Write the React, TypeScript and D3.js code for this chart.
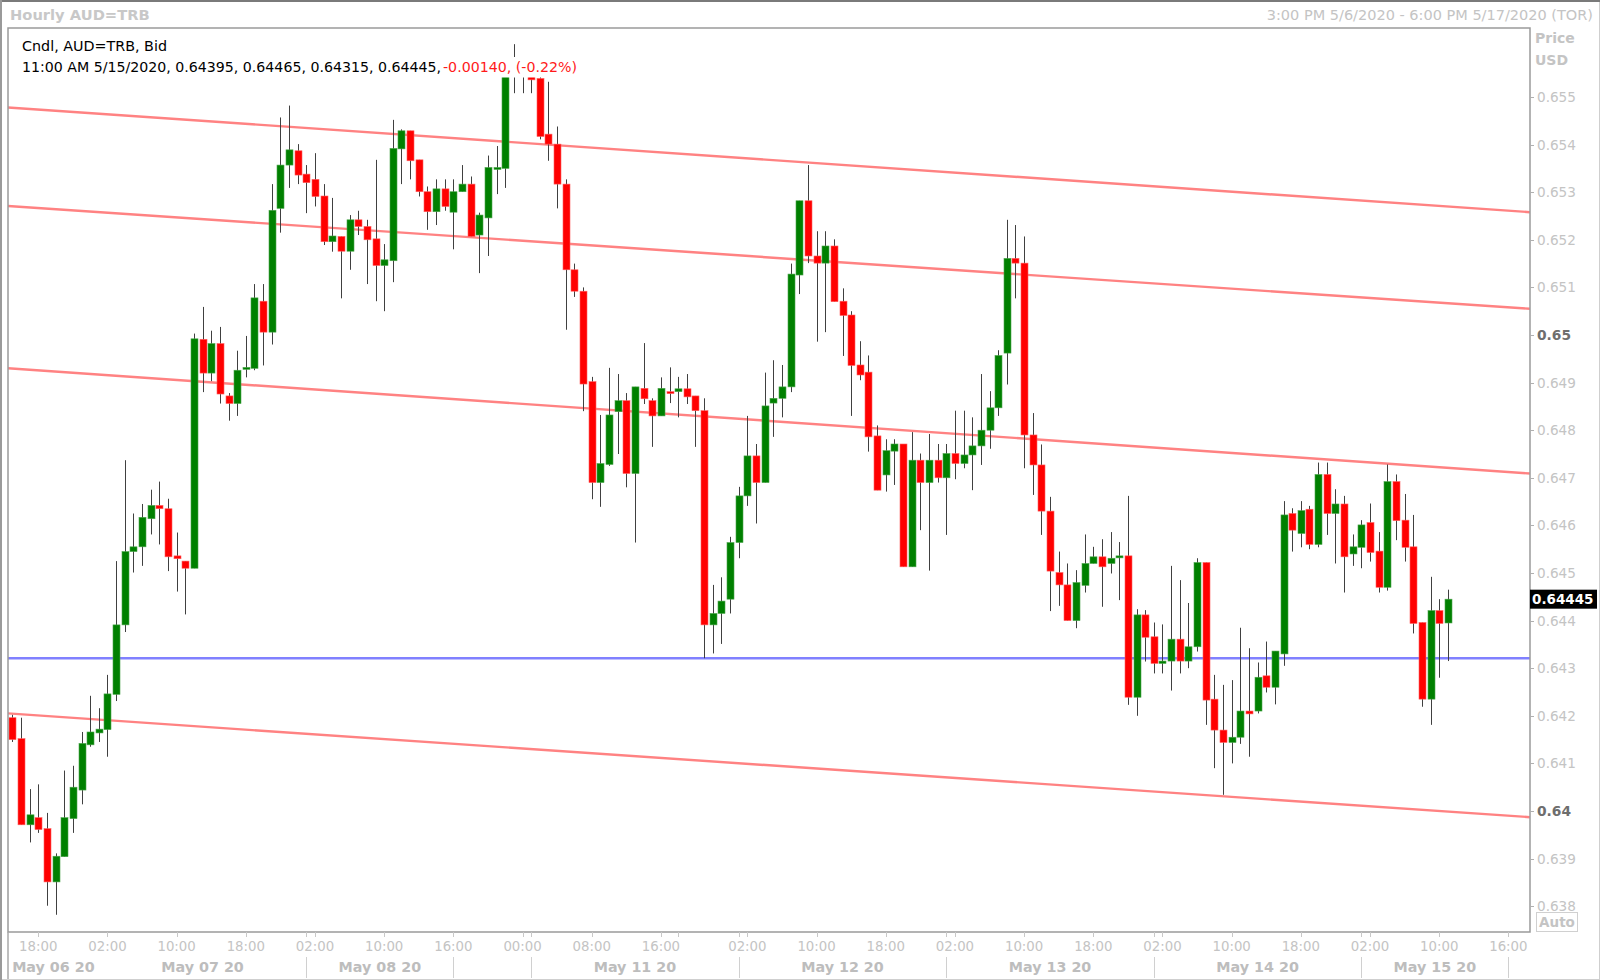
import React from "react";
import * as d3 from "d3";

// ---------- data ----------
const sessions = [
  { date: "2020-05-06", from: 15, to: 23 },
  { date: "2020-05-07", from: 0, to: 23 },
  { date: "2020-05-08", from: 0, to: 17 },
  { date: "2020-05-10", from: 16, to: 23 },
  { date: "2020-05-11", from: 0, to: 23 },
  { date: "2020-05-12", from: 0, to: 23 },
  { date: "2020-05-13", from: 0, to: 23 },
  { date: "2020-05-14", from: 0, to: 23 },
  { date: "2020-05-15", from: 0, to: 11 },
];

const openP = [
  0.64196, 0.64152, 0.63971, 0.63986, 0.63963, 0.63851, 0.63904, 0.63984, 0.64044, 0.64139,
  0.64164, 0.64171, 0.64245, 0.64391, 0.64545, 0.64555, 0.64614, 0.64642, 0.64635, 0.64536,
  0.64525, 0.6451, 0.64991, 0.6492, 0.64982, 0.64872, 0.64856, 0.64928, 0.6493, 0.65071,
  0.65006, 0.65266, 0.65357, 0.65387, 0.65338, 0.65327, 0.65292, 0.65196, 0.65207, 0.65176,
  0.65242, 0.65228, 0.65202, 0.65146, 0.65156, 0.65391, 0.65429, 0.65368, 0.65301, 0.65259,
  0.65307, 0.65258, 0.65301, 0.65317, 0.6521, 0.65246, 0.65348, 0.6535, 0.65555, 0.65545,
  0.6555, 0.65539, 0.65422, 0.65401, 0.65317, 0.65137, 0.65092, 0.64902, 0.6469, 0.64728,
  0.64839, 0.64862, 0.64709, 0.64888, 0.64862, 0.6483, 0.64881, 0.64881, 0.64887, 0.64872,
  0.64841, 0.64391, 0.64415, 0.64445, 0.64564, 0.64662, 0.64746, 0.6469, 0.64857, 0.64867,
  0.64891, 0.65126, 0.65282, 0.65166, 0.65151, 0.65187, 0.65071, 0.65042, 0.64937, 0.64922,
  0.64788, 0.64706, 0.64756, 0.64771, 0.64513, 0.64737, 0.6469, 0.64737, 0.647, 0.64751,
  0.6473, 0.64748, 0.64767, 0.648, 0.64847, 0.64962, 0.65161, 0.65151, 0.6479, 0.64727,
  0.6463, 0.64501, 0.64475, 0.644, 0.64474, 0.6452, 0.64534, 0.6452, 0.64532, 0.64536,
  0.64239, 0.64412, 0.64366, 0.6431, 0.64315, 0.64361, 0.64315, 0.64345, 0.64522, 0.64235,
  0.6417, 0.64144, 0.64155, 0.6421, 0.6421, 0.64284, 0.6426, 0.6433, 0.64625, 0.64583,
  0.64634, 0.6456, 0.64707, 0.64625, 0.64645, 0.6454, 0.64554, 0.64606, 0.64546, 0.6447,
  0.64692, 0.64611, 0.64555, 0.64396, 0.64235, 0.64421, 0.64395,
];
const highP = [
  0.64202, 0.64196, 0.64046, 0.64056, 0.63996, 0.63911, 0.64085, 0.64095, 0.64166, 0.64242,
  0.64216, 0.64286, 0.64525, 0.64737, 0.64625, 0.64645, 0.64675, 0.64692, 0.64656, 0.64585,
  0.64525, 0.65003, 0.65059, 0.65009, 0.65017, 0.64878, 0.64967, 0.64998, 0.65107, 0.65107,
  0.65317, 0.65457, 0.65482, 0.65401, 0.65357, 0.65382, 0.65317, 0.65288, 0.65207, 0.65252,
  0.65261, 0.65242, 0.65368, 0.65191, 0.65452, 0.65432, 0.65429, 0.65368, 0.65312, 0.65327,
  0.65327, 0.65327, 0.65357, 0.65333, 0.65257, 0.65377, 0.65397, 0.65575, 0.65611, 0.65565,
  0.65565, 0.65545, 0.65532, 0.65438, 0.65327, 0.6515, 0.651, 0.64912, 0.64832, 0.64931,
  0.64918, 0.64878, 0.64891, 0.64983, 0.64867, 0.64911, 0.64932, 0.64912, 0.64918, 0.64872,
  0.64867, 0.64475, 0.64491, 0.64576, 0.64681, 0.6483, 0.64771, 0.64921, 0.64947, 0.64937,
  0.6515, 0.65282, 0.65357, 0.65218, 0.65218, 0.65201, 0.65098, 0.6505, 0.64987, 0.64957,
  0.6481, 0.64781, 0.64781, 0.64771, 0.64796, 0.64751, 0.64792, 0.64771, 0.64771, 0.64841,
  0.64841, 0.64827, 0.64918, 0.64882, 0.64968, 0.65242, 0.65231, 0.65207, 0.64836, 0.6477,
  0.6466, 0.64545, 0.6452, 0.64506, 0.64581, 0.64555, 0.64571, 0.64586, 0.64565, 0.64662,
  0.64424, 0.64422, 0.64396, 0.64392, 0.64515, 0.64485, 0.64437, 0.64531, 0.64522, 0.64286,
  0.64265, 0.64275, 0.64385, 0.64342, 0.64312, 0.64356, 0.64336, 0.64651, 0.64636, 0.64651,
  0.64641, 0.64732, 0.64732, 0.64676, 0.64662, 0.64581, 0.64611, 0.64646, 0.64586, 0.64728,
  0.64707, 0.64666, 0.64622, 0.64396, 0.64492, 0.64445, 0.64465,
];
const lowP = [
  0.64145, 0.63971, 0.63934, 0.63954, 0.63801, 0.63782, 0.63904, 0.63954, 0.64014, 0.64135,
  0.64145, 0.64114, 0.64231, 0.64376, 0.64501, 0.64515, 0.64581, 0.6456, 0.64504, 0.64461,
  0.64413, 0.6451, 0.6488, 0.64903, 0.64856, 0.6482, 0.6483, 0.64911, 0.64926, 0.64936,
  0.6498, 0.65215, 0.65309, 0.65317, 0.65256, 0.6527, 0.65189, 0.65175, 0.65077, 0.65137,
  0.6521, 0.65107, 0.65071, 0.6505, 0.65111, 0.65317, 0.65327, 0.65291, 0.65221, 0.65231,
  0.65261, 0.6518, 0.65301, 0.65207, 0.6513, 0.65166, 0.65296, 0.65309, 0.65508, 0.65508,
  0.65508, 0.65411, 0.65366, 0.65266, 0.65011, 0.6508, 0.6484, 0.64655, 0.64639, 0.64725,
  0.6475, 0.6468, 0.64564, 0.64855, 0.64765, 0.6483, 0.64857, 0.64827, 0.64855, 0.64765,
  0.64321, 0.64331, 0.64351, 0.64415, 0.64531, 0.64641, 0.64604, 0.6469, 0.64786, 0.64827,
  0.6488, 0.65086, 0.65151, 0.64986, 0.65006, 0.6507, 0.64956, 0.6483, 0.64905, 0.64755,
  0.64674, 0.64671, 0.64685, 0.64513, 0.64513, 0.6459, 0.64505, 0.6469, 0.6458, 0.64697,
  0.6472, 0.64674, 0.64727, 0.64761, 0.6483, 0.64896, 0.65077, 0.6472, 0.64664, 0.6458,
  0.6442, 0.64431, 0.644, 0.64384, 0.64459, 0.6452, 0.64429, 0.64499, 0.64443, 0.64223,
  0.642, 0.64314, 0.64289, 0.64289, 0.64253, 0.64289, 0.643, 0.64335, 0.64181, 0.6409,
  0.64034, 0.641, 0.64141, 0.64114, 0.64205, 0.64249, 0.64224, 0.64305, 0.64545, 0.64554,
  0.6455, 0.64554, 0.6458, 0.6452, 0.64459, 0.64515, 0.6451, 0.64524, 0.64459, 0.64463,
  0.64569, 0.64524, 0.64373, 0.64219, 0.64181, 0.6428, 0.64315,
];
const closeP = [
  0.6415, 0.63971, 0.63992, 0.63961, 0.63851, 0.63905, 0.63986, 0.6405, 0.64142, 0.64166,
  0.64172, 0.64246, 0.64391, 0.64545, 0.64555, 0.64617, 0.64642, 0.64635, 0.64534, 0.6453,
  0.6451, 0.64992, 0.6492, 0.64982, 0.64876, 0.64856, 0.64926, 0.64932, 0.65078, 0.65006,
  0.65262, 0.65357, 0.65389, 0.65336, 0.6532, 0.65291, 0.65196, 0.65208, 0.65176, 0.65242,
  0.65228, 0.652, 0.65146, 0.65158, 0.65392, 0.65429, 0.65366, 0.65301, 0.65259, 0.65307,
  0.6527, 0.65301, 0.65317, 0.65207, 0.65252, 0.65352, 0.65352, 0.65555, 0.65545, 0.6555,
  0.65536, 0.65417, 0.65401, 0.65317, 0.65137, 0.65092, 0.64897, 0.6469, 0.6473, 0.64832,
  0.64862, 0.64709, 0.64891, 0.64866, 0.6483, 0.64888, 0.64877, 0.64887, 0.6487, 0.64841,
  0.64391, 0.64415, 0.64441, 0.64564, 0.64662, 0.64746, 0.6469, 0.64851, 0.64867, 0.64891,
  0.65128, 0.65282, 0.65166, 0.65151, 0.65187, 0.6507, 0.65041, 0.64936, 0.64916, 0.64786,
  0.64674, 0.64757, 0.64771, 0.64513, 0.64737, 0.6469, 0.64737, 0.647, 0.64751, 0.6473,
  0.64748, 0.64767, 0.648, 0.64847, 0.64957, 0.65161, 0.65151, 0.6479, 0.64727, 0.6463,
  0.64504, 0.64475, 0.644, 0.6448, 0.6452, 0.64534, 0.64513, 0.64531, 0.64536, 0.64239,
  0.64412, 0.64365, 0.6431, 0.64315, 0.64361, 0.64315, 0.64345, 0.64522, 0.64233, 0.6417,
  0.64144, 0.64155, 0.6421, 0.64204, 0.64281, 0.6426, 0.64336, 0.64622, 0.6459, 0.64631,
  0.6456, 0.64707, 0.64625, 0.64645, 0.64534, 0.64555, 0.64601, 0.64543, 0.6447, 0.64692,
  0.6461, 0.64554, 0.64394, 0.64235, 0.64421, 0.64394, 0.64445,
];

// price axis
const priceTicks = [0.638, 0.639, 0.64, 0.641, 0.642, 0.643, 0.644, 0.645, 0.646, 0.647, 0.648, 0.649, 0.65, 0.651, 0.652, 0.653, 0.654, 0.655];
const priceTickLabels = ["0.638", "0.639", "0.64", "0.641", "0.642", "0.643", "0.644", "0.645", "0.646", "0.647", "0.648", "0.649", "0.65", "0.651", "0.652", "0.653", "0.654", "0.655"];
const boldPriceTicks = ["0.64", "0.65"];

// time axis (candle slot indices)
const timeTickIdx = [3, 11, 19, 27, 35, 43, 51, 59, 67, 75, 85, 93, 101, 109, 117, 125, 133, 141, 149, 157, 165, 173];
const timeTickLabels = ["18:00", "02:00", "10:00", "18:00", "02:00", "10:00", "16:00", "00:00", "08:00", "16:00", "02:00", "10:00", "18:00", "02:00", "10:00", "18:00", "02:00", "10:00", "18:00", "02:00", "10:00", "16:00"];
const minorTickIdx = [77];
const dayBounds = [-0.5, 10, 34, 51, 60, 84, 108, 132, 156, 173];
const dayLabels = ["May 06 20", "May 07 20", "May 08 20", "", "May 11 20", "May 12 20", "May 13 20", "May 14 20", "May 15 20"];
const daySeparatorIdx = [34, 51, 60, 84, 108, 132, 156, 173];
const slotDomain = [-0.5, 175.5];

// drawn studies: [slot, price] endpoints
const trendLines = [
  [[-0.5, 0.65478], [175.5, 0.65258]],
  [[-0.5, 0.65271], [175.5, 0.65055]],
  [[-0.5, 0.6493], [175.5, 0.64709]],
  [[-0.5, 0.64205], [175.5, 0.63987]],
];
const supportLevel = 0.64321;
const lastPrice = 0.64445;

const titleText = "Hourly AUD=TRB";
const rangeText = "3:00 PM 5/6/2020 - 6:00 PM 5/17/2020 (TOR)";
const legendLine1 = "Cndl, AUD=TRB, Bid";
const legendLine2 = "11:00 AM 5/15/2020, 0.64395, 0.64465, 0.64315, 0.64445, ";
const legendChange = "-0.00140, (-0.22%)";

// ---------- chart ----------
const W = 1600;
const H = 980;
const L = 8;
const R = 1530;
const T = 28;
const B = 932;
const FONT = "'DejaVu Sans', Verdana, sans-serif";

function buildTimes() {
  const t: string[] = [];
  sessions.forEach((s) => {
    for (let h = s.from; h <= s.to; h++) t.push(`${s.date} ${String(h).padStart(2, "0")}:00`);
  });
  return t;
}

export default function App() {
  const times = buildTimes();
  const x = d3.scaleLinear().domain(slotDomain).range([L, R]);
  const y = d3.scaleLinear().domain([0.64, 0.655]).range([811, 97]);
  const bodyW = 7;
  const candles = times.map((t, i) => ({
    t,
    i,
    o: openP[i],
    h: highP[i],
    l: lowP[i],
    c: closeP[i],
  }));
  const lineGen = d3
    .line<number[]>()
    .x((d) => x(d[0]))
    .y((d) => y(d[1]));

  return (
    <div style={{ position: "fixed", left: 0, top: 0, width: W, height: H, background: "#fff" }}>
      <svg width={W} height={H} style={{ display: "block" }}>
        <defs>
          <clipPath id="plotClip">
            <rect x={L} y={T} width={R - L} height={B - T} />
          </clipPath>
        </defs>
        <rect x={0} y={0} width={W} height={H} fill="#fff" />

        {/* header */}
        <text x={10} y={20} fontFamily={FONT} fontSize={14.7} fontWeight="bold" fill="#c8c8c8">
          {titleText}
        </text>
        <text x={1593} y={20} fontFamily={FONT} fontSize={14.5} fill="#c4c4c4" textAnchor="end">
          {rangeText}
        </text>

        {/* plot */}
        <g clipPath="url(#plotClip)">
          {trendLines.map((ln, k) => (
            <path key={"tl" + k} d={lineGen(ln) || ""} stroke="#ff8282" strokeWidth={2.4} fill="none" />
          ))}
          <line x1={L} x2={R} y1={y(supportLevel)} y2={y(supportLevel)} stroke="#8080ff" strokeWidth={2.6} />
          {candles.map((d) => {
            const cx = Math.round(x(d.i)) + 0.5;
            const up = d.c >= d.o;
            const top = y(Math.max(d.o, d.c));
            const bot = y(Math.min(d.o, d.c));
            const hgt = Math.max(2, bot - top);
            return (
              <g key={d.t}>
                <line x1={cx} x2={cx} y1={y(d.h)} y2={y(d.l)} stroke="#404040" strokeWidth={1} />
                <rect
                  x={cx - bodyW / 2}
                  y={top}
                  width={bodyW}
                  height={hgt}
                  fill={up ? "#008000" : "#ff0000"}
                  stroke={up ? "#4da64d" : "#ff6060"}
                  strokeWidth={0.6}
                />
              </g>
            );
          })}
        </g>

        {/* legend */}
        <rect x={20} y={57} width={562} height={20.5} fill="#fff" />
        <text x={22} y={51} fontFamily={FONT} fontSize={14.5} fill="#000" textLength={145} lengthAdjust="spacingAndGlyphs">
          {legendLine1}
        </text>
        <text x={22} y={72} fontFamily={FONT} fontSize={14.3} fill="#000" textLength={419} lengthAdjust="spacingAndGlyphs">
          {legendLine2}
        </text>
        <text x={443} y={72} fontFamily={FONT} fontSize={14.3} fill="#ff1a1a" textLength={134} lengthAdjust="spacingAndGlyphs">
          {legendChange}
        </text>

        {/* frames */}
        <rect x={L} y={T} width={R - L} height={B - T} fill="none" stroke="#9a9a9a" strokeWidth={1.5} />
        <line x1={L} x2={L} y1={B} y2={H} stroke="#a8a8a8" strokeWidth={1.5} />
        <rect x={0.5} y={0.5} width={W - 1} height={H - 1} fill="none" stroke="#cfcfcf" strokeWidth={1} />
        <line x1={0} x2={W} y1={1} y2={1} stroke="#7a7a7a" strokeWidth={2} />
        <line x1={1} x2={1} y1={0} y2={H} stroke="#9a9a9a" strokeWidth={2} />

        {/* price axis */}
        <text x={1535} y={43} fontFamily={FONT} fontSize={14} fontWeight="bold" fill="#c4c4c4">
          Price
        </text>
        <text x={1535} y={65} fontFamily={FONT} fontSize={14} fontWeight="bold" fill="#c4c4c4">
          USD
        </text>
        {priceTicks.map((p, k) => {
          const lbl = priceTickLabels[k];
          const bold = boldPriceTicks.includes(lbl);
          return (
            <g key={"pt" + k}>
              <line x1={R} x2={R + 4} y1={Math.round(y(p)) + 0.5} y2={Math.round(y(p)) + 0.5} stroke="#b0b0b0" />
              <text
                x={1537}
                y={y(p) + 5}
                fontFamily={FONT}
                fontSize={bold ? 13.8 : 13.6}
                fontWeight={bold ? "bold" : "normal"}
                fill={bold ? "#6e6e6e" : "#c4c4c4"}
              >
                {lbl}
              </text>
            </g>
          );
        })}
        <rect x={R} y={y(lastPrice) - 9.5} width={67} height={19} fill="#000" />
        <text x={1532} y={y(lastPrice) + 5} fontFamily={FONT} fontSize={13.5} fontWeight="bold" fill="#fff">
          {d3.format(".5f")(lastPrice)}
        </text>
        <rect x={1536.5} y={912.5} width={41} height={19} fill="none" stroke="#d0d0d0" />
        <text x={1557} y={927} fontFamily={FONT} fontSize={13.5} fontWeight="bold" fill="#c4c4c4" textAnchor="middle">
          Auto
        </text>

        {/* time axis */}
        {timeTickIdx.map((ti, k) => (
          <g key={"tt" + k}>
            <line x1={Math.round(x(ti)) + 0.5} x2={Math.round(x(ti)) + 0.5} y1={B} y2={B + 5} stroke="#c8c8c8" />
            <text x={x(ti)} y={951} fontFamily={FONT} fontSize={13.3} fill="#c4c4c4" textAnchor="middle">
              {timeTickLabels[k]}
            </text>
          </g>
        ))}
        {minorTickIdx.map((ti) => (
          <line key={"mt" + ti} x1={Math.round(x(ti)) + 0.5} x2={Math.round(x(ti)) + 0.5} y1={B} y2={B + 5} stroke="#c8c8c8" />
        ))}
        {daySeparatorIdx.map((di) => (
          <g key={"ds" + di}>
            <line x1={Math.round(x(di)) + 0.5} x2={Math.round(x(di)) + 0.5} y1={B} y2={B + 5} stroke="#c8c8c8" />
            <line x1={Math.round(x(di)) + 0.5} x2={Math.round(x(di)) + 0.5} y1={957} y2={978} stroke="#d0d0d0" />
          </g>
        ))}
        {dayLabels.map((lbl, k) =>
          lbl ? (
            <text
              key={"dl" + k}
              x={(x(dayBounds[k]) + x(dayBounds[k + 1])) / 2}
              y={972}
              fontFamily={FONT}
              fontSize={14.3}
              fontWeight="bold"
              fill="#bdbdbd"
              textAnchor="middle"
            >
              {lbl}
            </text>
          ) : null
        )}
      </svg>
    </div>
  );
}
